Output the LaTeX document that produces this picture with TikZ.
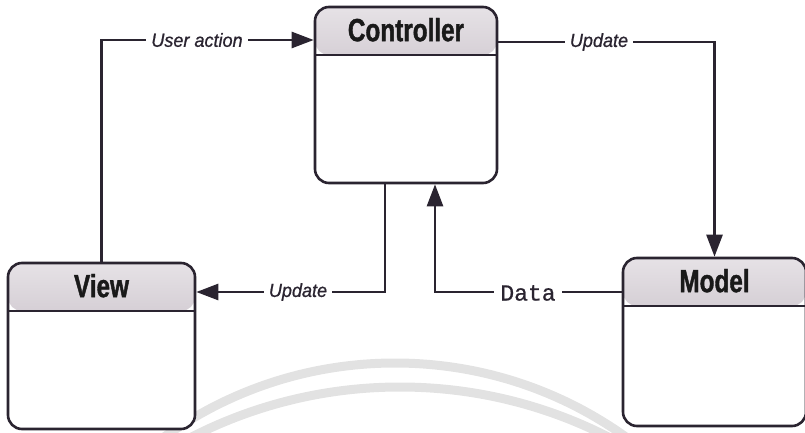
\documentclass[tikz,border=0pt]{standalone}
\usepackage{fontspec}
\setmainfont{Liberation Sans}
\newfontfamily\titlefont[FakeStretch=0.76,FakeBold=1.2]{Liberation Sans}
\newfontfamily\labelfont[FakeStretch=0.95,FakeBold=0.8]{Liberation Sans}
\newfontfamily\monofont[FakeBold=0.8]{Liberation Mono}
\usetikzlibrary{arrows.meta}
\definecolor{ink}{HTML}{2A2430}
\definecolor{hdrtop}{HTML}{E6E2E6}
\definecolor{hdrbot}{HTML}{ADA1AD}
\definecolor{wm}{HTML}{E2E2E2}
\tikzset{
  mvcbox/.style={draw=ink, line width=2.6pt, fill=white, rounded corners=14pt, inner sep=0pt,
    path picture={
      \shade[top color=hdrtop, bottom color=hdrbot]
        (path picture bounding box.north west) rectangle ([yshift=-48pt]path picture bounding box.north east);
      \draw[ink, line width=2.2pt]
        ([yshift=-48pt]path picture bounding box.north west) -- ([yshift=-48pt]path picture bounding box.north east);
    }},
  boxtitle/.style={font=\titlefont\bfseries\fontsize{32}{34}\selectfont, text=black!90, inner sep=0pt},
  conn/.style={draw=ink, line width=2.6pt},
  arr/.style={-{Triangle[length=22pt,width=16pt]}},
  lbl/.style={fill=white, inner xsep=5pt, inner ysep=2pt, text=ink, font=\labelfont\itshape\fontsize{19}{21}\selectfont},
  mlbl/.style={fill=white, inner xsep=6pt, inner ysep=2pt, text=ink, font=\monofont\fontsize{23}{25}\selectfont},
}
\begin{document}
\begin{tikzpicture}[x=1pt, y=-1pt]
\useasboundingbox (0,0) rectangle (805,433);
% faint watermark arcs
\begin{scope}
  \clip (0,0) rectangle (805,433);
  \draw[wm, line width=9pt] (395,760) circle[radius=397];
  \draw[wm, line width=9pt] (400,845) circle[radius=458];
\end{scope}
% boxes
\node[mvcbox, minimum width=182pt, minimum height=176pt] (ctrl) at (406,95) {};
\node[mvcbox, minimum width=187pt, minimum height=166pt] (view) at (101.5,346) {};
\node[mvcbox, minimum width=183pt, minimum height=168pt] (model) at (714.5,342) {};
\node[boxtitle] (ctrlT) at ([yshift=-24pt]ctrl.north) {Controller};
\node[boxtitle] (viewT) at ([yshift=-24pt]view.north) {View};
\node[boxtitle] (modelT) at ([yshift=-24pt]model.north) {Model};
% corner coordinates
\coordinate (c1) at (101.5,40);
\coordinate (c2) at (714.5,42);
\coordinate (c3) at (385,292);
\coordinate (c4) at (435,292);
% connectors
\draw[conn, arr] (view.north) -- (c1) -- (c1 -| ctrl.west);
\draw[conn, arr] (ctrl.east |- c2) -- (c2) -- (model.north);
\draw[conn, arr] (ctrl.south -| c3) -- (c3) -- (c3 -| view.east);
\draw[conn, arr] (model.west |- c4) -- (c4) -- (ctrl.south -| c4);
% labels
\node[lbl] (l1) at (197,40) {User action};
\node[lbl] (l2) at (599,42) {Update};
\node[lbl] (l3) at (298,292) {Update};
\node[mlbl] (l4) at (528,293) {Data};
\end{tikzpicture}
\end{document}
